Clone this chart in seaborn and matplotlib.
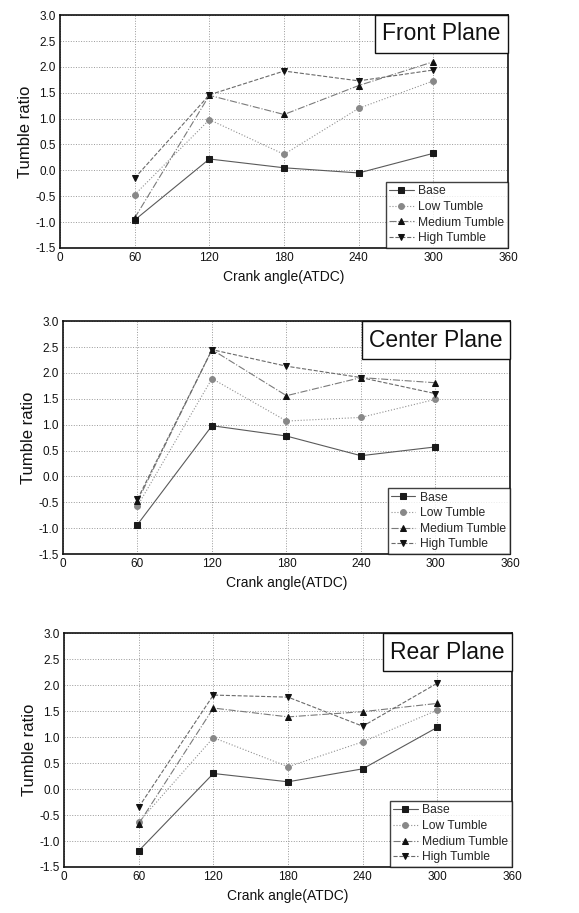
import matplotlib
matplotlib.use("Agg")
import matplotlib.pyplot as plt
from matplotlib.offsetbox import AnchoredText
import seaborn as sns
import pandas as pd

sns.set_theme(style="white")
plt.rcParams['font.family'] = ['Liberation Sans', 'DejaVu Sans']

crank_angle = [60, 120, 180, 240, 300]
series_names = ["Base", "Low Tumble", "Medium Tumble", "High Tumble"]

front_base = [-0.96, 0.22, 0.05, -0.05, 0.33]
front_low = [-0.47, 0.98, 0.31, 1.20, 1.73]
front_medium = [-0.92, 1.45, 1.08, 1.64, 2.10]
front_high = [-0.15, 1.46, 1.92, 1.73, 1.94]

center_base = [-0.93, 0.98, 0.78, 0.40, 0.57]
center_low = [-0.57, 1.89, 1.07, 1.14, 1.49]
center_medium = [-0.48, 2.45, 1.56, 1.91, 1.81]
center_high = [-0.44, 2.45, 2.13, 1.91, 1.60]

rear_base = [-1.19, 0.30, 0.14, 0.39, 1.19]
rear_low = [-0.64, 0.99, 0.43, 0.91, 1.52]
rear_medium = [-0.67, 1.56, 1.39, 1.49, 1.65]
rear_high = [-0.35, 1.81, 1.77, 1.21, 2.04]

panel_titles = ["Front Plane", "Center Plane", "Rear Plane"]
panels = [
    [front_base, front_low, front_medium, front_high],
    [center_base, center_low, center_medium, center_high],
    [rear_base, rear_low, rear_medium, rear_high],
]

x_ticks = [0, 60, 120, 180, 240, 300, 360]
y_ticks = [-1.5, -1.0, -0.5, 0.0, 0.5, 1.0, 1.5, 2.0, 2.5, 3.0]

markers = ["s", "o", "^", "v"]
linestyles = ["-", ":", "-.", "--"]
line_colors = ["#5a5a5a", "#909090", "#7a7a7a", "#6a6a6a"]
marker_colors = ["#1a1a1a", "#888888", "#111111", "#111111"]

fig = plt.figure(figsize=(5.79, 9.13), dpi=100)
axes_rects = [
    [0.1036, 0.7284, 0.774, 0.255],
    [0.1088, 0.3932, 0.772, 0.255],
    [0.1105, 0.0504, 0.774, 0.256],
]

for rect, title, vals in zip(axes_rects, panel_titles, panels):
    ax = fig.add_axes(rect)
    for name, v, m, ls, lc, mc in zip(series_names, vals, markers, linestyles, line_colors, marker_colors):
        df = pd.DataFrame({"x": crank_angle, "y": v})
        sns.lineplot(data=df, x="x", y="y", ax=ax, color=lc, linestyle=ls, linewidth=0.8,
                     marker=m, markersize=4.2, markerfacecolor=mc, markeredgecolor=mc,
                     label=name)
    ax.set_xlim(0, 360)
    ax.set_ylim(-1.5, 3.0)
    ax.set_xticks(x_ticks)
    ax.set_yticks(y_ticks)
    ax.set_xticklabels([str(t) for t in x_ticks], fontsize=8.5)
    ax.set_yticklabels([f"{t:.1f}" for t in y_ticks], fontsize=8.5)
    ax.tick_params(axis="both", length=0, pad=3, colors="#111111")
    ax.grid(True, linestyle=":", color="#999999", linewidth=0.7)
    for s in ax.spines.values():
        s.set_color("#111111")
        s.set_linewidth(1.2)
    ax.set_xlabel("Crank angle(ATDC)", fontsize=10, color="#111111", labelpad=4)
    ax.set_ylabel("Tumble ratio", fontsize=12, color="#111111", labelpad=2)
    leg = ax.legend(loc="lower right", fontsize=8.7, frameon=True, fancybox=False,
                    borderaxespad=0, handlelength=2.0, handletextpad=0.4,
                    borderpad=0.3, labelspacing=0.3)
    leg.get_frame().set_edgecolor("#111111")
    leg.get_frame().set_linewidth(1.0)
    at = AnchoredText(title, loc="upper right", frameon=True, borderpad=0, pad=0.32,
                      prop=dict(size=16.5, color="#111111"))
    at.patch.set_boxstyle("square,pad=0")
    at.patch.set_edgecolor("#111111")
    at.patch.set_linewidth(1.0)
    at.zorder = 5
    ax.add_artist(at)

fig.savefig("out.png", dpi=100)
